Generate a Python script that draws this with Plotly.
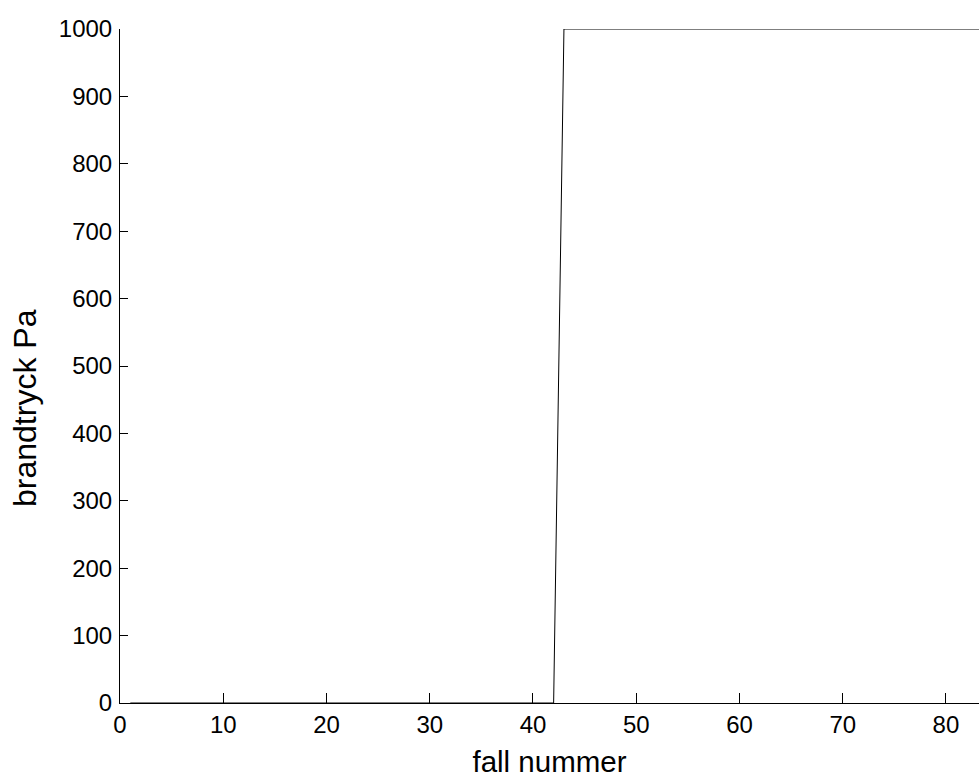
import plotly.graph_objects as go

# Data
fall_nummer = list(range(1, 85))
brandtryck_pa = [0] * 42 + [1000] * 42

x_ticks = [0, 10, 20, 30, 40, 50, 60, 70, 80]
y_ticks = [0, 100, 200, 300, 400, 500, 600, 700, 800, 900, 1000]

FONT = "Liberation Sans, Arial, sans-serif"
NB = "\u00a0"

fig = go.Figure()
fig.add_trace(go.Scatter(
    x=fall_nummer, y=brandtryck_pa, mode="lines",
    line=dict(color="black", width=1),
    showlegend=False, cliponaxis=False,
))

fig.update_layout(
    width=979, height=778,
    margin=dict(l=120, r=0, t=29, b=75),
    paper_bgcolor="white", plot_bgcolor="white",
    font=dict(family=FONT, size=24, color="black"),
    xaxis=dict(
        range=[0, 83.2], tickvals=x_ticks, ticks="inside", ticklen=10,
        tickcolor="black", tickwidth=1, showline=True, linecolor="black",
        linewidth=1, showgrid=False, zeroline=False, mirror=False,
        tickfont=dict(family=FONT, size=24, color="black"),
        title=dict(text="fall nummer", font=dict(family=FONT, size=29.5), standoff=16),
    ),
    yaxis=dict(
        range=[0, 1000], tickvals=y_ticks, ticks="inside", ticklen=8,
        tickcolor="black", tickwidth=1, showline=True, linecolor="black",
        linewidth=1, showgrid=False, zeroline=False, mirror=False,
        tickfont=dict(family=FONT, size=24, color="black"),
        ticklabelstandoff=2,
    ),
    annotations=[dict(
        text="brandtryck" + NB + "Pa", textangle=-90, showarrow=False,
        xref="paper", yref="paper", x=-0.1106, y=0.4377,
        xanchor="center", yanchor="middle",
        font=dict(family=FONT, size=32, color="black"),
    )],
)

fig.write_html(
    "out.html",
    config={"displayModeBar": False},
    post_script="document.body.style.margin='0';document.body.style.overflow='hidden';",
)
